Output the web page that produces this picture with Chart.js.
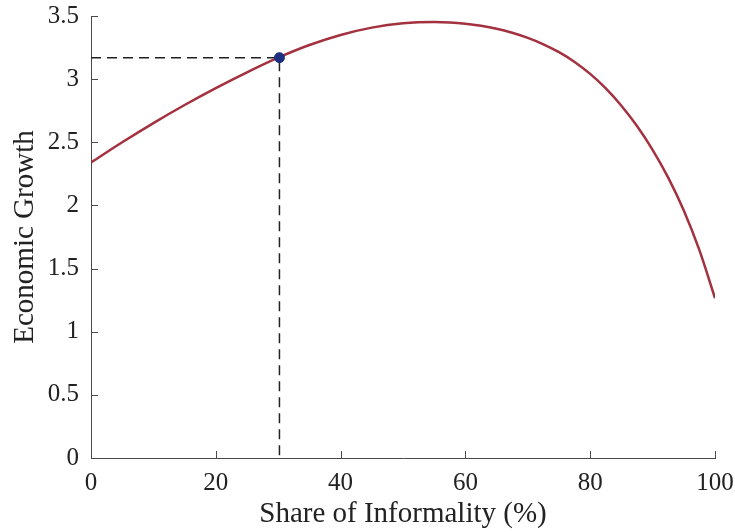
<!DOCTYPE html>
<html>
<head>
<meta charset="utf-8">
<script src="https://cdn.jsdelivr.net/npm/chart.js@4"></script>
<style>
  html, body { margin: 0; padding: 0; background: #fff; }
  #wrap { width: 735px; height: 532px; }
</style>
</head>
<body>
<div id="wrap"><canvas id="c" width="735" height="532"></canvas></div>
<script>
// Share of informality (%) and the growth rate it is associated with
const informality = [0, 5, 10, 15, 20, 25, 30, 35, 40, 45, 50, 55, 57.5, 60, 62.5, 65, 67.5, 70, 72.5, 75, 77.5, 80, 82.5, 85, 87.5, 90, 92.5, 95, 97.5, 100];
const growth = [2.34, 2.50, 2.652, 2.795, 2.929, 3.054, 3.17, 3.27, 3.35, 3.408, 3.442, 3.452, 3.4495, 3.4395, 3.423, 3.3995, 3.367, 3.3265, 3.276, 3.2135, 3.1365, 3.0415, 2.9265, 2.7895, 2.6285, 2.4405, 2.2205, 1.9605, 1.6455, 1.2655];

// Highlighted point and its reference lines
const markX = 30.2;
const markY = 3.17;

const xTicks = [0, 20, 40, 60, 80, 100];
const yTicks = [0, 0.5, 1, 1.5, 2, 2.5, 3, 3.5];

const serif = '"Liberation Serif", "DejaVu Serif", serif';
const axisColor = '#4a4a4a';

// Short tick marks drawn inward from the left and bottom axes
const innerTicks = {
  id: 'innerTicks',
  afterDraw(chart) {
    const { ctx, chartArea, scales } = chart;
    const len = 7;
    ctx.save();
    ctx.strokeStyle = axisColor;
    ctx.lineWidth = 1;
    ctx.beginPath();
    xTicks.forEach(v => {
      const px = Math.round(scales.x.getPixelForValue(v)) + 0.5;
      ctx.moveTo(px, chartArea.bottom);
      ctx.lineTo(px, chartArea.bottom - len);
    });
    yTicks.forEach(v => {
      const py = Math.round(scales.y.getPixelForValue(v)) + 0.5;
      ctx.moveTo(chartArea.left, py);
      ctx.lineTo(chartArea.left + len, py);
    });
    ctx.stroke();
    ctx.restore();
  }
};

new Chart(document.getElementById('c'), {
  type: 'scatter',
  data: {
    datasets: [
      {
        label: 'Marker',
        data: [{ x: markX, y: markY }],
        showLine: false,
        pointRadius: 5,
        pointBackgroundColor: '#1c2e80',
        pointBorderColor: '#1c2e80',
        order: 0
      },
      {
        label: 'Guide',
        data: [{ x: 0, y: markY }, { x: markX, y: markY }, { x: markX, y: 0 }],
        showLine: true,
        borderColor: '#222',
        borderWidth: 1.5,
        borderDash: [10, 6],
        pointRadius: 0,
        fill: false,
        order: 2
      },
      {
        label: 'Economic Growth',
        data: informality.map((x, i) => ({ x, y: growth[i] })),
        showLine: true,
        borderColor: '#a3313f',
        borderWidth: 2.5,
        pointRadius: 0,
        cubicInterpolationMode: 'monotone',
        fill: false,
        order: 1
      }
    ]
  },
  options: {
    responsive: false,
    animation: false,
    layout: { padding: { top: 16, right: 20, left: 0, bottom: 0 } },
    plugins: {
      legend: { display: false },
      tooltip: { enabled: false }
    },
    scales: {
      x: {
        type: 'linear',
        min: 0,
        max: 100,
        afterBuildTicks(scale) { scale.ticks = xTicks.map(v => ({ value: v })); },
        afterFit(scale) {
          scale.height = 74;
          scale.paddingLeft = 0;
          scale.paddingRight = 0;
        },
        grid: { display: false, drawTicks: false },
        border: { display: true, color: axisColor, width: 1 },
        ticks: {
          color: '#222',
          padding: 10,
          maxRotation: 0,
          font: { family: serif, size: 25 },
          callback: v => String(v)
        },
        title: {
          display: true,
          text: 'Share of Informality (%)',
          color: '#222',
          padding: { top: 0, bottom: 0 },
          font: { family: serif, size: 29 }
        }
      },
      y: {
        type: 'linear',
        min: 0,
        max: 3.5,
        afterBuildTicks(scale) { scale.ticks = yTicks.map(v => ({ value: v })); },
        afterFit(scale) {
          scale.width = 91;
          scale.paddingTop = 0;
          scale.paddingBottom = 0;
        },
        grid: { display: false, drawTicks: false },
        border: { display: true, color: axisColor, width: 1 },
        ticks: {
          color: '#222',
          padding: 12,
          font: { family: serif, size: 25 },
          callback: v => String(v)
        },
        title: {
          display: true,
          text: 'Economic Growth',
          color: '#222',
          padding: { top: 8, bottom: 0 },
          font: { family: serif, size: 29 }
        }
      }
    }
  },
  plugins: [innerTicks]
});
</script>
</body>
</html>
